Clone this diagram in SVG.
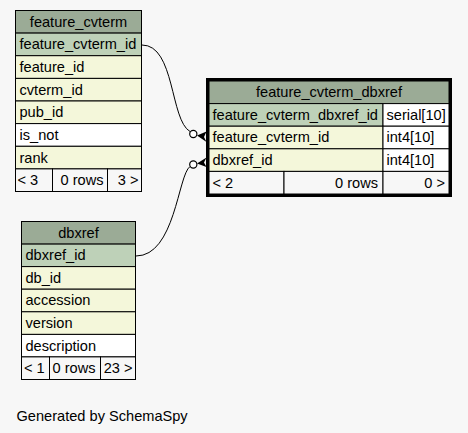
<svg xmlns="http://www.w3.org/2000/svg" width="468" height="433" viewBox="0 0 468 433">
<style>
text{font-family:"Liberation Sans",Helvetica,Arial,sans-serif;font-size:14.6px;fill:#000}
.h{fill:#9bab96;stroke:#000;stroke-width:1}
.pk{fill:#bed1b8;stroke:#000;stroke-width:1}
.ix{fill:#f4f7da;stroke:#000;stroke-width:1}
.w{fill:#ffffff;stroke:#000;stroke-width:1}
.f{fill:#f7f7f7;stroke:#000;stroke-width:1}
.c{text-anchor:middle}
.r{text-anchor:end}
.edge{fill:none;stroke:#000;stroke-width:1}
.dot{fill:#fff;stroke:#000;stroke-width:1.2}
</style>
<rect x="0" y="0" width="468" height="433" fill="#f7f7f7"/>

<g id="connectors">
  <path class="edge" d="M142,45 C175,45 170,120 190,131.5"/>
  <circle class="dot" cx="193.3" cy="134" r="3.6"/>
  <polygon points="197,135.5 206.5,131.5 204,137 206.5,142" fill="#000"/>
  <path class="edge" d="M136,256 C175,256 178,175 190,166.5"/>
  <circle class="dot" cx="193.3" cy="164.5" r="3.6"/>
  <polygon points="197,163.5 206.5,157.5 204,162.5 206.5,167" fill="#000"/>
</g>

<g id="feature_cvterm">
  <rect class="h" x="15.5" y="10.5" width="126" height="22.6"/>
  <text class="c" x="78.5" y="26.5">feature_cvterm</text>
  <rect class="pk" x="15.5" y="33.1" width="126" height="22.6"/>
  <text x="19.5" y="49.3">feature_cvterm_id</text>
  <rect class="ix" x="15.5" y="55.7" width="126" height="22.7"/>
  <text x="19.5" y="72">feature_id</text>
  <rect class="ix" x="15.5" y="78.4" width="126" height="22.6"/>
  <text x="19.5" y="94.6">cvterm_id</text>
  <rect class="ix" x="15.5" y="101" width="126" height="22.6"/>
  <text x="19.5" y="117.2">pub_id</text>
  <rect class="w" x="15.5" y="123.6" width="126" height="22.7"/>
  <text x="19.5" y="139.9">is_not</text>
  <rect class="ix" x="15.5" y="146.3" width="126" height="22.6"/>
  <text x="19.5" y="162.5">rank</text>
  <rect class="f" x="15.5" y="168.9" width="37" height="22.6"/>
  <rect class="f" x="52.5" y="168.9" width="55" height="22.6"/>
  <rect class="f" x="107.5" y="168.9" width="34" height="22.6"/>
  <text x="17.5" y="185.1">&lt; 3</text>
  <text class="r" x="103.5" y="185.1">0 rows</text>
  <text class="r" x="138.5" y="185.1">3 &gt;</text>
  <rect x="15.5" y="10.5" width="126" height="181" fill="none" stroke="#000" stroke-width="1"/>
</g>

<g id="feature_cvterm_dbxref">
  <rect class="h" x="209" y="81" width="240" height="22.6"/>
  <text class="c" x="329" y="97">feature_cvterm_dbxref</text>
  <rect class="pk" x="209" y="103.6" width="174" height="22.6"/>
  <rect class="w" x="383" y="103.6" width="66" height="22.6"/>
  <text x="212.5" y="119.8">feature_cvterm_dbxref_id</text>
  <text x="386.5" y="119.8">serial[10]</text>
  <rect class="ix" x="209" y="126.2" width="174" height="22.6"/>
  <rect class="w" x="383" y="126.2" width="66" height="22.6"/>
  <text x="212.5" y="142.4">feature_cvterm_id</text>
  <text x="386.5" y="142.4">int4[10]</text>
  <rect class="ix" x="209" y="148.8" width="174" height="22.6"/>
  <rect class="w" x="383" y="148.8" width="66" height="22.6"/>
  <text x="212.5" y="165">dbxref_id</text>
  <text x="386.5" y="165">int4[10]</text>
  <rect class="f" x="209" y="171.4" width="75" height="22.6"/>
  <rect class="f" x="284" y="171.4" width="99" height="22.6"/>
  <rect class="f" x="383" y="171.4" width="66" height="22.6"/>
  <text x="212.5" y="187.6">&lt; 2</text>
  <text class="r" x="378" y="187.6">0 rows</text>
  <text class="r" x="445" y="187.6">0 &gt;</text>
  <rect x="207.5" y="79.5" width="243" height="116" fill="none" stroke="#000" stroke-width="3"/>
</g>

<g id="dbxref">
  <rect class="h" x="21.5" y="221.5" width="114" height="22.6"/>
  <text class="c" x="78.5" y="237.7">dbxref</text>
  <rect class="pk" x="21.5" y="244.1" width="114" height="22.5"/>
  <text x="25.5" y="260.3">dbxref_id</text>
  <rect class="ix" x="21.5" y="266.6" width="114" height="22.6"/>
  <text x="25.5" y="282.8">db_id</text>
  <rect class="ix" x="21.5" y="289.2" width="114" height="22.6"/>
  <text x="25.5" y="305.4">accession</text>
  <rect class="ix" x="21.5" y="311.8" width="114" height="22.6"/>
  <text x="25.5" y="328">version</text>
  <rect class="w" x="21.5" y="334.4" width="114" height="22.5"/>
  <text x="25.5" y="350.6">description</text>
  <rect class="f" x="21.5" y="356.9" width="28" height="22.6"/>
  <rect class="f" x="49.5" y="356.9" width="51" height="22.6"/>
  <rect class="f" x="100.5" y="356.9" width="35" height="22.6"/>
  <text x="24" y="373.1">&lt; 1</text>
  <text class="r" x="95.5" y="373.1">0 rows</text>
  <text class="r" x="132.5" y="373.1">23 &gt;</text>
  <rect x="21.5" y="221.5" width="114" height="158" fill="none" stroke="#000" stroke-width="1"/>
</g>

<text x="16.5" y="421">Generated by SchemaSpy</text>
</svg>
